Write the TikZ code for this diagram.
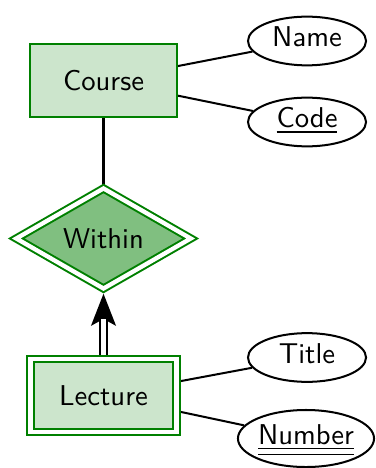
\documentclass[tikz,border=0pt]{standalone}
\usetikzlibrary{shapes.geometric,arrows.meta,backgrounds}
\definecolor{erline}{rgb}{0,0.5,0}
\colorlet{entfill}{erline!20}
\colorlet{relfill}{erline!50}
\tikzset{
  entity/.style={rectangle, draw=erline, fill=entfill, line width=0.7pt,
    minimum width=51pt, minimum height=25.5pt, font=\sffamily},
  weakentity/.style={entity, double=white, double distance=1.5pt},
  relation/.style={diamond, draw=erline, fill=relfill, line width=0.7pt,
    double=white, double distance=1.5pt, inner sep=0pt,
    minimum width=61.2pt, minimum height=29.8pt, font=\sffamily},
  attr/.style={ellipse, draw, fill=white, line width=0.7pt, inner sep=0pt,
    minimum width=41.2pt, minimum height=17pt,
    text height=7pt, text depth=3pt, font=\sffamily},
  link/.style={line width=0.7pt},
  idlink/.style={link, double=white, double distance=1.4pt},
}
\begin{document}
\begin{tikzpicture}[x=0.349pt, y=-0.349pt]
  \useasboundingbox (0,0) rectangle (375,468);

  % entities and the identifying relationship
  \node[entity]     (course)  at (103.5, 80.5)  {Course};
  \node[relation]   (within)  at (103.5, 238.5) {Within};
  \node[weakentity] (lecture) at (103.5, 395.5) {Lecture};

  % attributes
  \node[attr] (name)   at (307, 41)    {Name};
  \node[attr] (code)   at (307, 122)   {\underline{Code}};
  \node[attr] (title)  at (307, 357.5) {Title};
  \node[attr, minimum width=47.5pt, minimum height=19.9pt]
              (number) at (306, 438.5) {\underline{\underline{Number}}};

  % connectors
  \begin{scope}[on background layer]
    \draw[link] (course) -- (name);
    \draw[link] (course) -- (code);
    \draw[link] (course) -- (within);
    \draw[link] (lecture) -- (title);
    \draw[link] (lecture) -- (number);
    \draw[link, -{Stealth[length=11.2pt, width=8.7pt, inset=2.4pt]},
          shorten >=1.3pt] (lecture) -- (within);
    \draw[idlink, shorten >=10.2pt] (lecture) -- (within);
  \end{scope}
\end{tikzpicture}
\end{document}
